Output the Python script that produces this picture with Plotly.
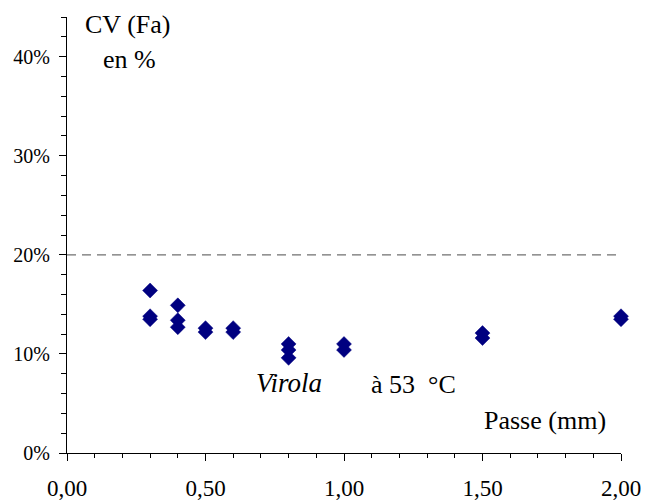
import plotly.graph_objects as go

# passe (mm) and CV of Fa (fraction)
passe_mm = [0.3, 0.3, 0.3, 0.4, 0.4, 0.4, 0.5, 0.5, 0.6, 0.6,
            0.8, 0.8, 0.8, 1.0, 1.0, 1.5, 1.5, 2.0, 2.0]
cv_fa = [0.164, 0.138, 0.135, 0.149, 0.134, 0.127, 0.126, 0.122, 0.126, 0.122,
         0.110, 0.104, 0.096, 0.110, 0.104, 0.121, 0.116, 0.138, 0.135]

THRESHOLD = 0.20
X_RANGE = [0, 2]
Y_RANGE = [0, 0.44]

SERIF = "Times New Roman"

fig = go.Figure()
fig.add_trace(
    go.Scatter(
        x=passe_mm,
        y=cv_fa,
        mode="markers",
        marker=dict(symbol="diamond", size=11.5, color="#000080",
                    line=dict(width=0.5, color="#000080")),
        cliponaxis=False,
        showlegend=False,
    )
)

fig.add_hline(y=THRESHOLD, line=dict(color="#707070", width=1.3, dash="9px,6px"))

axis_common = dict(showgrid=False, zeroline=False, showline=True, automargin=False,
                   linecolor="black", linewidth=1.3, tickcolor="black")

# the page body adds 8px around the figure
fig.update_layout(
    width=643,
    height=492,
    margin=dict(l=59, r=30, t=9, b=47),
    plot_bgcolor="white",
    paper_bgcolor="white",
    separators=", ",
    font=dict(family=SERIF, size=20, color="black"),
    xaxis=dict(
        **axis_common,
        range=X_RANGE,
        tick0=0,
        dtick=0.5,
        tickformat=".2f",
        tickfont=dict(size=23),
        ticks="outside",
        ticklen=7,
        tickwidth=1,
        minor=dict(dtick=0.1, ticks="outside", ticklen=4, tickcolor="black"),
        ticklabelstandoff=7,
    ),
    yaxis=dict(
        **axis_common,
        range=Y_RANGE,
        tick0=0,
        dtick=0.1,
        tickformat=".0%",
        ticks="outside",
        ticklen=7,
        tickwidth=1,
        minor=dict(dtick=0.02, ticks="outside", ticklen=5, tickcolor="black"),
        ticklabelstandoff=5,
    ),
    # mirrored copies so the ticks cross the axis lines
    xaxis2=dict(
        **axis_common,
        overlaying="x",
        anchor="y",
        range=X_RANGE,
        tick0=0,
        dtick=0.5,
        ticks="inside",
        ticklen=6,
        showticklabels=False,
        minor=dict(dtick=0.1, ticks="inside", ticklen=4, tickcolor="black"),
    ),
    yaxis2=dict(
        **axis_common,
        overlaying="y",
        anchor="x",
        range=Y_RANGE,
        tick0=0,
        dtick=0.1,
        ticks="inside",
        ticklen=6,
        showticklabels=False,
        minor=dict(dtick=0.02, ticks="inside", ticklen=5, tickcolor="black"),
    ),
)

labels = [
    ("CV (Fa)", 0.217, 0.432, False, 26),
    ("en %", 0.224, 0.397, False, 26),
    ("Virola", 0.80, 0.071, True, 27),
    ("à 53  °C", 1.25, 0.069, False, 26),
    ("Passe (mm)", 1.726, 0.033, False, 26),
]
for text, xv, yv, italic, size in labels:
    fig.add_annotation(
        x=xv, y=yv, xref="x", yref="y",
        text=f"<i>{text}</i>" if italic else text,
        showarrow=False, xanchor="center", yanchor="middle",
        font=dict(family=SERIF, size=size, color="black"),
    )

fig.write_html("out.html")
